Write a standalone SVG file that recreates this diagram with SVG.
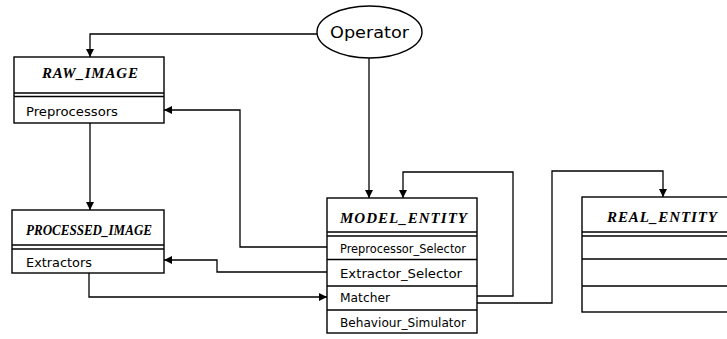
<svg xmlns="http://www.w3.org/2000/svg" width="727" height="339" viewBox="0 0 727 339">
<defs>
<marker id="ah" viewBox="0 0 10 10" refX="10" refY="5" markerWidth="9" markerHeight="8" markerUnits="userSpaceOnUse" orient="auto">
<path d="M0,0 L10,5 L0,10 Z" fill="#000"/>
</marker>
</defs>
<style>
.box{fill:#fff;stroke:#000;stroke-width:1.4}
.ln{stroke:#000;stroke-width:1.4;fill:none}
.title{font-family:"Liberation Serif",serif;font-style:italic;font-weight:bold;font-size:15px;fill:#000}
.row{font-family:"DejaVu Sans",sans-serif;font-size:13px;fill:#000}
.op{font-family:"DejaVu Sans",sans-serif;font-size:16px;fill:#000}
.con{stroke:#000;stroke-width:1.3;fill:none;marker-end:url(#ah)}
</style>
<rect width="727" height="339" fill="#fff"/>
<g id="connectors">
<path class="con" d="M317,34 H90 V57"/>
<path class="con" d="M369,58 V198"/>
<path class="con" d="M327,247 H240 V110 H164"/>
<path class="con" d="M327,272 H217 V260 H164"/>
<path class="con" d="M90,123 V210"/>
<path class="con" d="M89,273 V297 H327"/>
<path class="con" d="M477,296 H513 V172 H403 V198"/>
<path class="con" d="M477,303 H552 V171 H663 V197"/>
</g>
<g id="operator">
<ellipse cx="369.5" cy="32" rx="52.5" ry="26" class="box"/>
<text class="op" x="369.5" y="38" text-anchor="middle" textLength="79" lengthAdjust="spacingAndGlyphs">Operator</text>
</g>
<g id="raw_image">
<rect class="box" x="14" y="57" width="150" height="66"/>
<line class="ln" x1="14" y1="93" x2="164" y2="93"/>
<line class="ln" x1="14" y1="96.5" x2="164" y2="96.5"/>
<text class="title" x="42" y="78" textLength="96" lengthAdjust="spacing">RAW_IMAGE</text>
<text class="row" x="26" y="116" textLength="92" lengthAdjust="spacingAndGlyphs">Preprocessors</text>
</g>
<g id="processed_image">
<rect class="box" x="12" y="210" width="152" height="63"/>
<line class="ln" x1="12" y1="245" x2="164" y2="245"/>
<line class="ln" x1="12" y1="249" x2="164" y2="249"/>
<text class="title" x="26" y="235" textLength="126" lengthAdjust="spacingAndGlyphs">PROCESSED_IMAGE</text>
<text class="row" x="26" y="267" textLength="66" lengthAdjust="spacingAndGlyphs">Extractors</text>
</g>
<g id="model_entity">
<rect class="box" x="327" y="198" width="150" height="135"/>
<line class="ln" x1="327" y1="232" x2="477" y2="232"/>
<line class="ln" x1="327" y1="236" x2="477" y2="236"/>
<line class="ln" x1="327" y1="259.5" x2="477" y2="259.5"/>
<line class="ln" x1="327" y1="286" x2="477" y2="286"/>
<line class="ln" x1="327" y1="310" x2="477" y2="310"/>
<text class="title" x="340" y="223" textLength="127" lengthAdjust="spacing">MODEL_ENTITY</text>
<text class="row" x="340" y="253" textLength="126" lengthAdjust="spacingAndGlyphs">Preprocessor_Selector</text>
<text class="row" x="340" y="278" textLength="122" lengthAdjust="spacingAndGlyphs">Extractor_Selector</text>
<text class="row" x="340" y="302" textLength="50" lengthAdjust="spacingAndGlyphs">Matcher</text>
<text class="row" x="340" y="327" textLength="126" lengthAdjust="spacingAndGlyphs">Behaviour_Simulator</text>
</g>
<g id="real_entity">
<rect class="box" x="582" y="197" width="162" height="115"/>
<line class="ln" x1="582" y1="232" x2="744" y2="232"/>
<line class="ln" x1="582" y1="236" x2="744" y2="236"/>
<line class="ln" x1="582" y1="259" x2="744" y2="259"/>
<line class="ln" x1="582" y1="286" x2="744" y2="286"/>
<text class="title" x="607" y="222" textLength="110" lengthAdjust="spacing">REAL_ENTITY</text>
</g>
</svg>
